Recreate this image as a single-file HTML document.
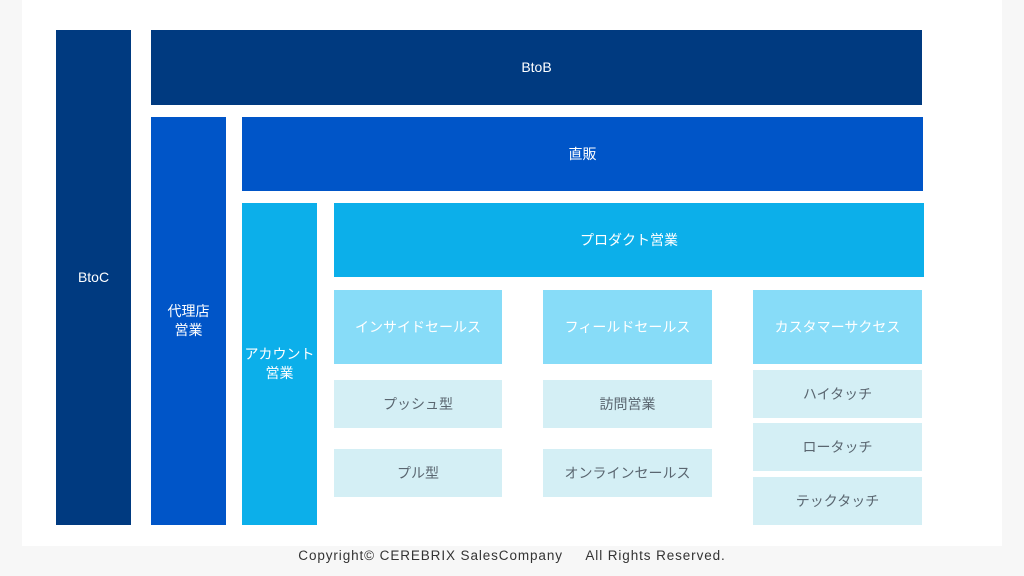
<!DOCTYPE html>
<html><head><meta charset="utf-8"><style>
body{margin:0;width:1024px;height:576px;background:#f7f7f7;position:relative;overflow:hidden;font-family:"Liberation Sans","Noto Sans CJK JP",sans-serif}
.p{position:absolute;left:22px;top:0;width:980px;height:546px;background:#fff}
.b{position:absolute;display:flex;align-items:center;justify-content:center;text-align:center;font-size:14px;line-height:19px;color:#fff}
.d1{background:#003a80}.d2{background:#0055c8}.d3{background:#0cafea}.d4{background:#87dcf8}.d5{background:#d4eff5;color:#5a6670}
.f{position:absolute;top:546px;left:0;width:1024px;text-align:center;font-size:13.5px;color:#333;line-height:20px;letter-spacing:.9px}
</style></head><body>
<div class="p"></div>
<div class="b d1" style="left:56px;top:30px;width:75px;height:495px">BtoC</div>
<div class="b d1" style="left:151px;top:30px;width:771px;height:75px">BtoB</div>
<div class="b d2" style="left:151px;top:117px;width:75px;height:408px">代理店<br>営業</div>
<div class="b d2" style="left:242px;top:117px;width:681px;height:74px">直販</div>
<div class="b d3" style="left:242px;top:203px;width:75px;height:322px">アカウント<br>営業</div>
<div class="b d3" style="left:334px;top:203px;width:590px;height:74px">プロダクト営業</div>
<div class="b d4" style="left:334px;top:290px;width:168px;height:74px">インサイドセールス</div>
<div class="b d4" style="left:543px;top:290px;width:169px;height:74px">フィールドセールス</div>
<div class="b d4" style="left:753px;top:290px;width:169px;height:74px">カスタマーサクセス</div>
<div class="b d5" style="left:334px;top:380px;width:168px;height:48px">プッシュ型</div>
<div class="b d5" style="left:334px;top:449px;width:168px;height:48px">プル型</div>
<div class="b d5" style="left:543px;top:380px;width:169px;height:48px">訪問営業</div>
<div class="b d5" style="left:543px;top:449px;width:169px;height:48px">オンラインセールス</div>
<div class="b d5" style="left:753px;top:370px;width:169px;height:48px">ハイタッチ</div>
<div class="b d5" style="left:753px;top:423px;width:169px;height:48px">ロータッチ</div>
<div class="b d5" style="left:753px;top:477px;width:169px;height:48px">テックタッチ</div>
<div class="f">Copyright© CEREBRIX SalesCompany&nbsp;&nbsp;&nbsp;&nbsp; All Rights Reserved.</div>
</body></html>
